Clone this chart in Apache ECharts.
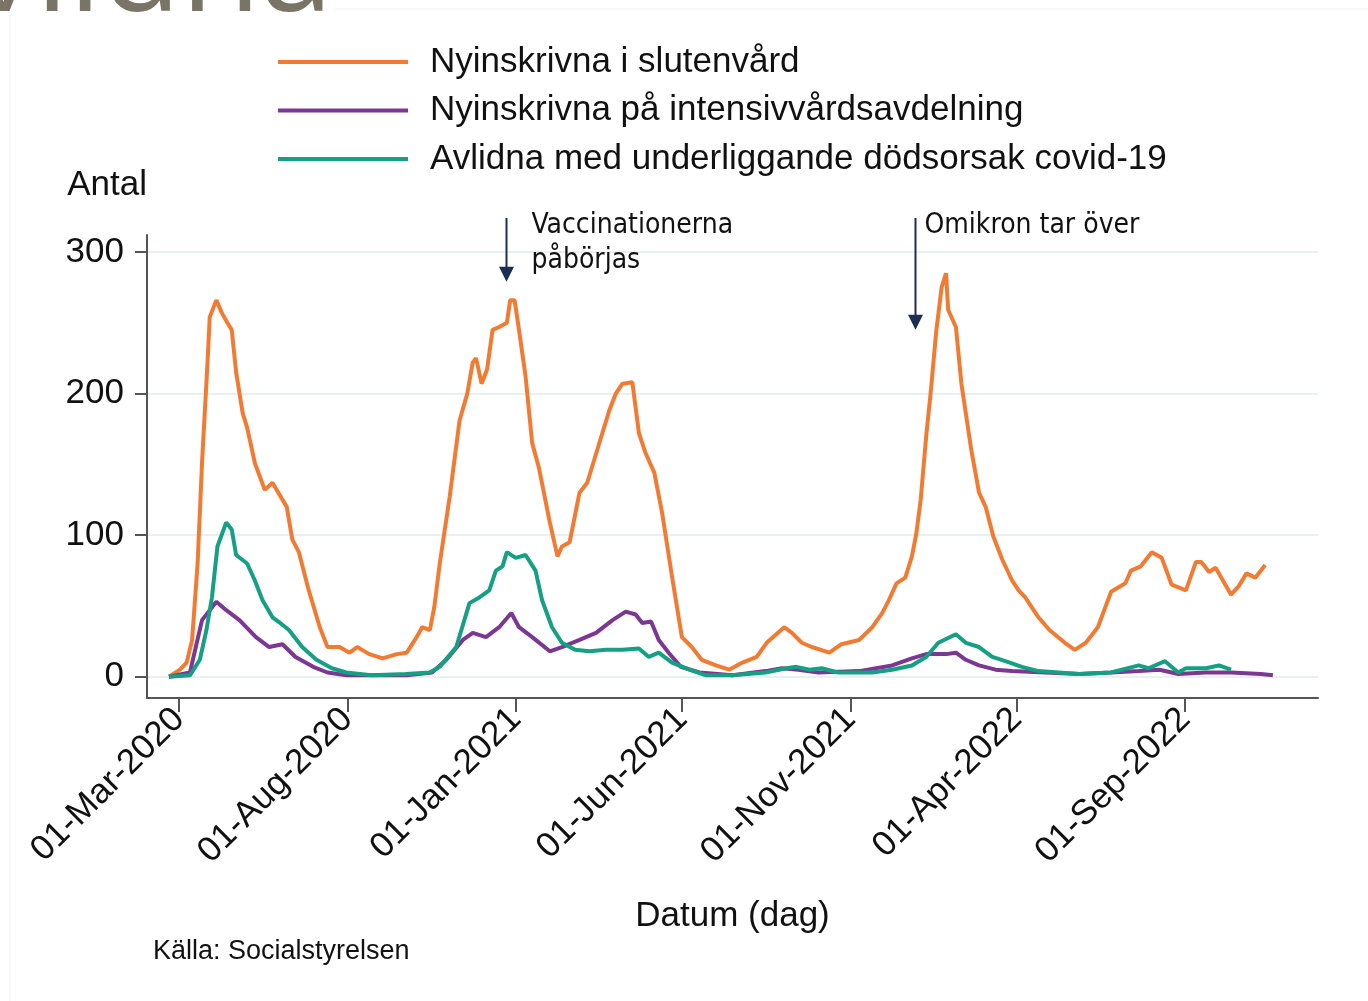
<!DOCTYPE html>
<html>
<head>
<meta charset="utf-8">
<title>Covid-19 i Sverige</title>
<script src="https://cdn.jsdelivr.net/npm/echarts@6.0.0/dist/echarts.min.js"></script>
<style>
  html, body { margin: 0; padding: 0; background: #fff; }
  #main { width: 1368px; height: 1001px; }
</style>
</head>
<body>
<div id="main"></div>
<script>
// values (daily counts)
const seriesNames = [
  'Nyinskrivna i slutenvård',
  'Nyinskrivna på intensivvårdsavdelning',
  'Avlidna med underliggande dödsorsak covid-19'
];
const seriesColors = ['#f27b33', '#7b3791', '#16a083'];

const slutenvard = [
  ['2020-02-21', 0], ['2020-03-02', 5], ['2020-03-08', 10], ['2020-03-13', 26], ['2020-03-18', 80],
  ['2020-03-22', 151], ['2020-03-27', 222], ['2020-03-29', 254], ['2020-04-04', 266], ['2020-04-09', 257],
  ['2020-04-14', 250], ['2020-04-18', 245], ['2020-04-22', 215], ['2020-04-28', 186], ['2020-05-02', 176],
  ['2020-05-09', 151], ['2020-05-18', 132], ['2020-05-25', 137], ['2020-06-07', 120], ['2020-06-12', 97],
  ['2020-06-18', 88], ['2020-06-27', 61], ['2020-07-07', 35], ['2020-07-14', 21], ['2020-07-25', 21],
  ['2020-08-03', 17], ['2020-08-10', 21], ['2020-08-21', 16], ['2020-09-02', 13], ['2020-09-15', 16],
  ['2020-09-24', 17], ['2020-10-03', 28], ['2020-10-08', 35], ['2020-10-15', 33], ['2020-10-19', 49],
  ['2020-10-24', 80], ['2020-11-02', 127], ['2020-11-11', 181], ['2020-11-18', 200], ['2020-11-23', 222],
  ['2020-11-26', 225], ['2020-12-01', 207], ['2020-12-06', 217], ['2020-12-11', 245], ['2020-12-17', 247],
  ['2020-12-24', 250], ['2020-12-27', 266], ['2020-12-31', 266], ['2021-01-04', 245], ['2021-01-10', 212],
  ['2021-01-16', 165], ['2021-01-22', 148], ['2021-02-01', 109], ['2021-02-08', 85], ['2021-02-12', 92],
  ['2021-02-19', 95], ['2021-02-28', 130], ['2021-03-07', 137], ['2021-03-16', 160], ['2021-03-27', 188],
  ['2021-04-02', 200], ['2021-04-08', 207], ['2021-04-17', 208], ['2021-04-23', 172], ['2021-04-29', 158],
  ['2021-05-07', 144], ['2021-05-14', 116], ['2021-05-23', 71], ['2021-06-01', 28], ['2021-06-10', 21],
  ['2021-06-19', 12], ['2021-07-02', 8], ['2021-07-14', 5], ['2021-07-26', 10], ['2021-08-08', 14],
  ['2021-08-17', 24], ['2021-09-02', 35], ['2021-09-09', 31], ['2021-09-18', 24], ['2021-09-27', 21],
  ['2021-10-13', 17], ['2021-10-24', 23], ['2021-11-09', 26], ['2021-11-21', 35], ['2021-11-30', 45],
  ['2021-12-06', 54], ['2021-12-13', 66], ['2021-12-21', 70], ['2021-12-27', 85], ['2021-12-31', 101],
  ['2022-01-04', 125], ['2022-01-09', 170], ['2022-01-13', 200], ['2022-01-18', 243], ['2022-01-23', 275],
  ['2022-01-27', 285], ['2022-01-29', 259], ['2022-02-05', 247], ['2022-02-10', 207], ['2022-02-19', 160],
  ['2022-02-26', 130], ['2022-03-04', 120], ['2022-03-11', 99], ['2022-03-19', 83], ['2022-03-28', 68],
  ['2022-04-03', 61], ['2022-04-09', 56], ['2022-04-15', 49], ['2022-04-21', 42], ['2022-05-01', 33],
  ['2022-05-15', 24], ['2022-05-24', 19], ['2022-06-03', 24], ['2022-06-14', 35], ['2022-06-26', 60],
  ['2022-07-09', 66], ['2022-07-14', 75], ['2022-07-23', 78], ['2022-08-02', 88], ['2022-08-11', 84],
  ['2022-08-20', 65], ['2022-09-02', 61], ['2022-09-11', 81], ['2022-09-16', 81], ['2022-09-23', 74],
  ['2022-09-29', 77], ['2022-10-13', 58], ['2022-10-20', 64], ['2022-10-27', 73], ['2022-11-04', 70],
  ['2022-11-13', 79]
];

const intensivvard = [
  ['2020-02-21', 0], ['2020-03-11', 3], ['2020-03-22', 40], ['2020-04-04', 53], ['2020-04-13', 47],
  ['2020-04-25', 40], ['2020-05-10', 28], ['2020-05-22', 21], ['2020-06-03', 23], ['2020-06-15', 14],
  ['2020-07-01', 7], ['2020-07-14', 3], ['2020-07-31', 1], ['2020-09-24', 1], ['2020-10-17', 3],
  ['2020-10-30', 12], ['2020-11-14', 26], ['2020-11-23', 31], ['2020-12-05', 28], ['2020-12-17', 35],
  ['2020-12-28', 45], ['2021-01-04', 35], ['2021-01-16', 28], ['2021-02-01', 18], ['2021-02-12', 21],
  ['2021-02-28', 26], ['2021-03-15', 31], ['2021-03-30', 40], ['2021-04-11', 46], ['2021-04-20', 44],
  ['2021-04-26', 38], ['2021-05-04', 39], ['2021-05-11', 26], ['2021-05-20', 17], ['2021-05-31', 7],
  ['2021-06-17', 3], ['2021-07-17', 1], ['2021-08-16', 4], ['2021-08-31', 6], ['2021-09-15', 5],
  ['2021-10-03', 3], ['2021-11-09', 4], ['2021-12-09', 8], ['2021-12-27', 13], ['2022-01-09', 16],
  ['2022-01-27', 16], ['2022-02-05', 17], ['2022-02-14', 12], ['2022-02-26', 8], ['2022-03-13', 5],
  ['2022-03-28', 4], ['2022-04-27', 3], ['2022-05-28', 2], ['2022-06-26', 3], ['2022-07-21', 4],
  ['2022-08-09', 5], ['2022-08-26', 2], ['2022-09-20', 3], ['2022-10-13', 3], ['2022-11-09', 2],
  ['2022-11-20', 1]
];

const avlidna = [
  ['2020-02-21', 0], ['2020-03-11', 1], ['2020-03-20', 12], ['2020-03-26', 33], ['2020-03-31', 56],
  ['2020-04-05', 92], ['2020-04-13', 109], ['2020-04-18', 104], ['2020-04-22', 86], ['2020-05-02', 80],
  ['2020-05-09', 68], ['2020-05-16', 54], ['2020-05-25', 42], ['2020-06-01', 38], ['2020-06-09', 33],
  ['2020-06-21', 21], ['2020-07-04', 12], ['2020-07-18', 6], ['2020-07-31', 3], ['2020-08-23', 1],
  ['2020-09-23', 2], ['2020-10-15', 3], ['2020-10-24', 7], ['2020-11-08', 21], ['2020-11-20', 52],
  ['2020-11-29', 56], ['2020-12-08', 61], ['2020-12-14', 75], ['2020-12-20', 78], ['2020-12-24', 88],
  ['2021-01-01', 84], ['2021-01-10', 86], ['2021-01-19', 75], ['2021-01-25', 54], ['2021-02-03', 35],
  ['2021-02-12', 24], ['2021-02-24', 19], ['2021-03-09', 18], ['2021-03-24', 19], ['2021-04-08', 19],
  ['2021-04-23', 20], ['2021-05-02', 14], ['2021-05-11', 17], ['2021-05-23', 10], ['2021-06-08', 5],
  ['2021-06-23', 1], ['2021-07-17', 1], ['2021-08-16', 3], ['2021-09-04', 6], ['2021-09-13', 7],
  ['2021-09-25', 5], ['2021-10-06', 6], ['2021-10-21', 3], ['2021-11-21', 3], ['2021-12-09', 5],
  ['2021-12-27', 8], ['2022-01-09', 14], ['2022-01-20', 24], ['2022-02-05', 30], ['2022-02-14', 24],
  ['2022-02-26', 21], ['2022-03-10', 14], ['2022-03-22', 11], ['2022-04-06', 7], ['2022-04-21', 4],
  ['2022-05-28', 2], ['2022-06-26', 3], ['2022-07-21', 8], ['2022-07-30', 6], ['2022-08-14', 11],
  ['2022-08-26', 3], ['2022-09-02', 6], ['2022-09-20', 6], ['2022-10-02', 8], ['2022-10-13', 5]
];

const xTickDates = ['2020-03-01', '2020-08-01', '2021-01-01', '2021-06-01', '2021-11-01', '2022-04-01', '2022-09-01'];
const yTicks = [0, 100, 200, 300];
const monthNames = ['Jan', 'Feb', 'Mar', 'Apr', 'May', 'Jun', 'Jul', 'Aug', 'Sep', 'Oct', 'Nov', 'Dec'];

// arrows: date, value where the arrow starts, value where it points
const notes = [
  { date: '2020-12-23', from: 324, to: 279, text: 'Vaccinationerna\npåbörjas', textOffset: 25 },
  { date: '2021-12-30', from: 324, to: 245, text: 'Omikron tar över', textOffset: 9 }
];

function toTime(s) {
  const p = s.split('-');
  return new Date(+p[0], +p[1] - 1, +p[2]).getTime();
}
function pad(n) { return n < 10 ? '0' + n : '' + n; }
function fmtDate(v) {
  const d = new Date(v);
  return pad(d.getDate()) + '-' + monthNames[d.getMonth()] + '-' + d.getFullYear();
}

const FONT = "'Liberation Sans', Arial, sans-serif";
const NOTE_FONT = "'DejaVu Sans Condensed', 'DejaVu Sans', sans-serif";
const INK = '#111111';
const AXIS = '#555555';
const ARROW = '#1d2f4f';

const chart = echarts.init(document.getElementById('main'));

const allData = [slutenvard, intensivvard, avlidna];
const xTickValues = xTickDates.map(toTime);

chart.setOption({
  animation: false,
  backgroundColor: '#ffffff',
  textStyle: { fontFamily: FONT },
  grid: { left: 147, right: 50, top: 235, bottom: 303, containLabel: false },
  legend: {
    left: 278,
    top: 42,
    orient: 'vertical',
    icon: 'rect',
    itemWidth: 130,
    itemHeight: 4,
    itemGap: 8.5,
    padding: 0,
    selectedMode: false,
    textStyle: { fontSize: 35, lineHeight: 40, color: INK, fontFamily: FONT, padding: [0, 0, 0, 17] },
    data: seriesNames
  },
  xAxis: {
    // dates as timestamps on a value axis, so ticks can sit on the chosen days
    type: 'value',
    min: toTime('2020-02-01'),
    max: toTime('2022-12-31'),
    name: 'Datum (dag)',
    nameLocation: 'middle',
    nameGap: 201,
    nameTextStyle: { fontSize: 35, color: INK, fontFamily: FONT },
    axisLine: { show: true, onZero: false, lineStyle: { color: AXIS, width: 2 } },
    axisTick: {
      show: true,
      length: 14,
      customValues: xTickValues,
      lineStyle: { color: AXIS, width: 2 }
    },
    axisLabel: {
      customValues: xTickValues,
      rotate: 45,
      margin: 16,
      fontSize: 35,
      color: INK,
      fontFamily: FONT,
      formatter: function (v) { return fmtDate(v); }
    },
    splitLine: { show: false }
  },
  yAxis: {
    type: 'value',
    min: -15,
    max: 312,
    splitNumber: 3,
    name: 'Antal',
    nameLocation: 'end',
    nameGap: 50,
    nameTextStyle: { fontSize: 35, color: INK, fontFamily: FONT, align: 'right', verticalAlign: 'middle' },
    axisLine: { show: true, lineStyle: { color: AXIS, width: 2 } },
    axisTick: { show: true, length: 12, customValues: yTicks, lineStyle: { color: AXIS, width: 2 } },
    axisLabel: { customValues: yTicks, margin: 23, fontSize: 35, color: INK, fontFamily: FONT },
    splitLine: { show: true, lineStyle: { color: '#e8f0f2', width: 2 } }
  },
  series: seriesNames.map(function (name, i) {
    return {
      name: name,
      type: 'line',
      showSymbol: false,
      symbol: 'none',
      color: seriesColors[i],
      itemStyle: { color: seriesColors[i] },
      lineStyle: { color: seriesColors[i], width: 4 },
      data: allData[i].map(function (p) { return [toTime(p[0]), p[1]]; })
    };
  })
});

// decorations and annotation arrows, the arrows placed through the chart's own scales
const graphics = [
  // faint frame of the slide picture
  { type: 'line', silent: true, shape: { x1: 335, y1: 9, x2: 1368, y2: 9 }, style: { stroke: '#efefef', lineWidth: 1 } },
  { type: 'line', silent: true, shape: { x1: 10, y1: 14, x2: 10, y2: 1001 }, style: { stroke: '#efefef', lineWidth: 1 } },
  // slide title, cut off at the top
  {
    type: 'text', silent: true, x: 333, y: -26,
    style: { text: 'Avlidna', align: 'right', verticalAlign: 'middle', fontSize: 130, fontFamily: "'Open Sans', sans-serif", fill: '#7a7467' }
  },
  {
    type: 'text', silent: true, x: 153, y: 952,
    style: { text: 'Källa: Socialstyrelsen', align: 'left', verticalAlign: 'middle', fontSize: 27, fontFamily: FONT, fill: INK }
  }
];
notes.forEach(function (n) {
  const top = chart.convertToPixel({ gridIndex: 0 }, [toTime(n.date), n.from]);
  const tip = chart.convertToPixel({ gridIndex: 0 }, [toTime(n.date), n.to]);
  const x = Math.round(top[0]) + 0.5;
  graphics.push({
    type: 'line', silent: true,
    shape: { x1: x, y1: top[1], x2: x, y2: tip[1] - 12 },
    style: { stroke: ARROW, lineWidth: 2 }
  });
  graphics.push({
    type: 'polygon', silent: true,
    shape: { points: [[x - 7.5, tip[1] - 15], [x + 7.5, tip[1] - 15], [x, tip[1]]] },
    style: { fill: ARROW }
  });
  graphics.push({
    type: 'text', silent: true, x: x + n.textOffset, y: top[1] - 10,
    style: { text: n.text, align: 'left', verticalAlign: 'top', fontSize: 28, lineHeight: 35, fontFamily: NOTE_FONT, fill: INK }
  });
});
chart.setOption({ graphic: graphics });
</script>
</body>
</html>
